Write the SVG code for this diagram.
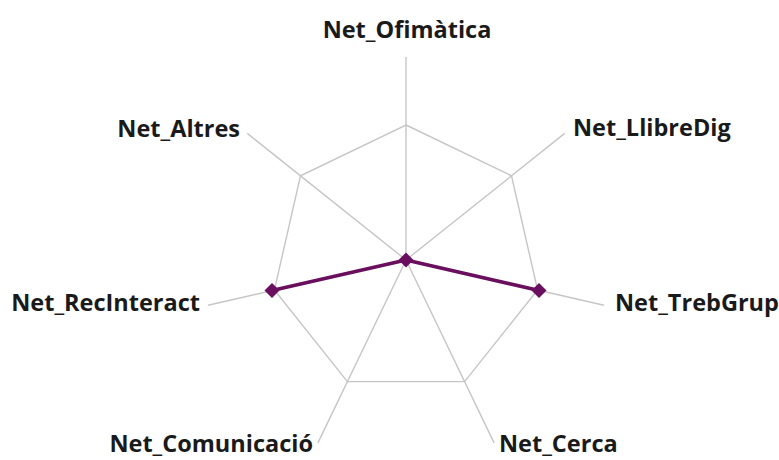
<svg xmlns="http://www.w3.org/2000/svg" width="779" height="460" viewBox="0 0 779 460">
  <style>
    .grid { fill: none; stroke: #c6c6c6; stroke-width: 1.4; }
    .axis { stroke: #c6c6c6; stroke-width: 1.4; }
    .series { fill: none; stroke: #6a0f5e; stroke-width: 3.8; stroke-linejoin: round; }
    .marker { fill: #6a0f5e; }
    .label { font-family: "Open Sans", "Liberation Sans", sans-serif; font-weight: bold; font-size: 23.5px; fill: #1a1a1a; }
  </style>
  <defs>
    <path id="diamond" d="M0,-7.5 L7.5,0 L0,7.5 L-7.5,0 Z"/>
  </defs>
  <rect width="779" height="460" fill="#ffffff"/>

  <!-- radar grid: one heptagon ring and seven spokes, centre (406,260) -->
  <g id="grid">
    <polygon class="grid" points="406,125 511.5,175.8 537.6,290 464.6,381.6 347.4,381.6 274.4,290 300.5,175.8"/>
    <g id="spokes">
      <line class="axis" x1="406" y1="260" x2="406" y2="57"/>
      <line class="axis" x1="406" y1="260" x2="564.7" y2="133.4"/>
      <line class="axis" x1="406" y1="260" x2="603.9" y2="305.2"/>
      <line class="axis" x1="406" y1="260" x2="494.1" y2="442.9"/>
      <line class="axis" x1="406" y1="260" x2="317.9" y2="442.9"/>
      <line class="axis" x1="406" y1="260" x2="208.1" y2="305.2"/>
      <line class="axis" x1="406" y1="260" x2="247.3" y2="133.4"/>
    </g>
  </g>

  <!-- data series -->
  <g id="connectors">
    <polyline class="series" points="272,290.5 406,260 539,290.5"/>
  </g>
  <g id="point-Net_RecInteract"><use href="#diamond" class="marker" x="272" y="290.5"/></g>
  <g id="point-centre"><use href="#diamond" class="marker" x="406" y="260"/></g>
  <g id="point-Net_TrebGrup"><use href="#diamond" class="marker" x="539" y="290.5"/></g>

  <!-- axis labels -->
  <g id="node-Net_Ofimatica"><text class="label" x="407" y="38" text-anchor="middle">Net_Ofimàtica</text></g>
  <g id="node-Net_LlibreDig"><text class="label" x="573" y="136">Net_LlibreDig</text></g>
  <g id="node-Net_TrebGrup"><text class="label" x="615" y="311">Net_TrebGrup</text></g>
  <g id="node-Net_Cerca"><text class="label" x="499" y="452">Net_Cerca</text></g>
  <g id="node-Net_Comunicacio"><text class="label" x="313" y="452" text-anchor="end">Net_Comunicació</text></g>
  <g id="node-Net_RecInteract"><text class="label" x="200" y="311" text-anchor="end">Net_RecInteract</text></g>
  <g id="node-Net_Altres"><text class="label" x="240" y="137" text-anchor="end">Net_Altres</text></g>
</svg>
